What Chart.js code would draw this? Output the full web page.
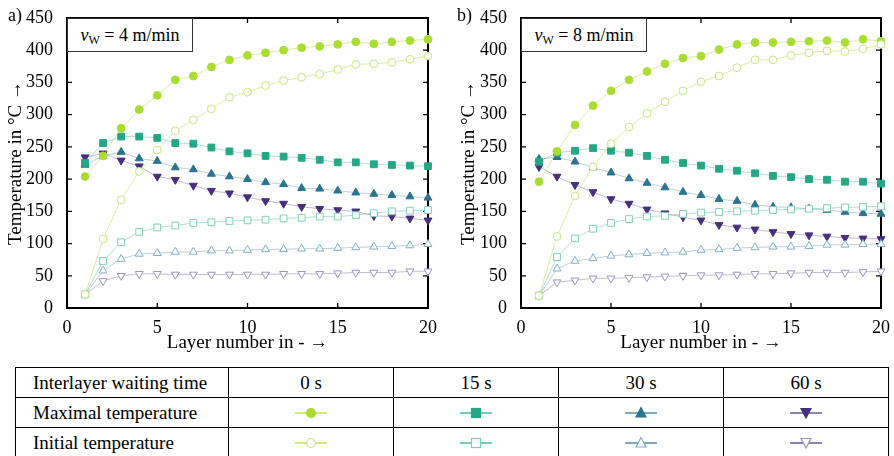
<!DOCTYPE html>
<html>
<head>
<meta charset="utf-8">
<script src="https://cdn.jsdelivr.net/npm/chart.js@4.4.0/dist/chart.umd.min.js"></script>
<style>
  body { margin: 0; width: 894px; height: 456px; background: #fff; overflow: hidden; position: relative;
         font-family: 'Liberation Serif', serif; color: #000; }
  .panel { position: absolute; top: 0; width: 447px; height: 360px; }
  .tag { position: absolute; top: 5px; font-size: 18px; }
  .vw { position: absolute; top: 18px; width: 124px; height: 32px; border: 1px solid #333; background: #fff;
        font-size: 18px; line-height: 32px; text-align: center; }
  .vw sub { font-size: 12px; vertical-align: -3px; line-height: 0; }
  table { position: absolute; left: 15px; top: 367px; border-collapse: collapse; font-size: 19px; }
  td { border: 1.5px solid #000; height: 29px; padding: 0; text-align: center; }
  td.lab { text-align: left; padding-left: 17px; width: 195px; }
  td.c { width: 164px; }
  svg { display: block; margin: 0 auto; }
</style>
</head>
<body>
<div class="panel" style="left:0"><canvas id="chartA" width="447" height="360"></canvas></div>
<div class="panel" style="left:447px"><canvas id="chartB" width="447" height="360"></canvas></div>
<div class="tag" style="left:8px">a)</div>
<div class="tag" style="left:457px">b)</div>
<div class="vw" style="left:67px"><i>v</i><sub>W</sub> = 4 m/min</div>
<div class="vw" style="left:521px"><i>v</i><sub>W</sub> = 8 m/min</div>
<table id="legendTable">
  <tr><td class="lab">Interlayer waiting time</td></tr>
  <tr><td class="lab">Maximal temperature</td></tr>
  <tr><td class="lab">Initial temperature</td></tr>
</table>
<script>
const layers = [1, 2, 3, 4, 5, 6, 7, 8, 9, 10, 11, 12, 13, 14, 15, 16, 17, 18, 19, 20];
const waitTimes = ['0 s', '15 s', '30 s', '60 s'];
const yTickStep = 50;

// panel a) v_W = 4 m/min
const aMax0   = [204, 236, 279, 308, 330, 354, 360, 374, 385, 392, 396, 400, 404, 406, 409, 413, 410, 413, 415, 417];
const aInit0  = [21, 107, 168, 212, 245, 275, 292, 309, 327, 335, 345, 353, 358, 363, 370, 378, 379, 381, 386, 391];
const aMax15  = [225, 256, 266, 266, 264, 256, 255, 249, 243, 240, 236, 235, 233, 230, 226, 226, 223, 222, 221, 220];
const aInit15 = [21, 73, 102, 118, 125, 128, 132, 133, 135, 136, 137, 139, 140, 142, 142, 144, 147, 150, 151, 152];
const aMax30  = [222, 236, 242, 232, 228, 218, 215, 208, 204, 200, 195, 192, 186, 185, 182, 179, 177, 175, 173, 171];
const aInit30 = [21, 58, 76, 84, 85, 87, 87, 89, 89, 90, 91, 91, 92, 92, 93, 94, 95, 96, 97, 99];
const aMax60  = [234, 240, 229, 220, 204, 199, 190, 182, 178, 172, 166, 162, 157, 154, 152, 150, 143, 142, 139, 136];
const aInit60 = [21, 42, 50, 53, 53, 52, 52, 52, 52, 52, 52, 53, 53, 53, 54, 55, 55, 55, 57, 57];

// panel b) v_W = 8 m/min
const bMax0   = [196, 243, 284, 314, 337, 354, 367, 379, 388, 391, 401, 409, 412, 412, 413, 414, 415, 412, 417, 414];
const bInit0  = [19, 111, 174, 219, 255, 281, 302, 320, 337, 351, 360, 373, 385, 385, 392, 396, 399, 398, 402, 409];
const bMax15  = [227, 241, 244, 248, 244, 241, 236, 230, 225, 221, 216, 213, 209, 205, 203, 200, 199, 196, 196, 193];
const bInit15 = [19, 79, 108, 123, 132, 138, 142, 143, 146, 148, 149, 150, 151, 152, 153, 154, 155, 156, 157, 158];
const bMax30  = [231, 234, 227, 218, 210, 201, 194, 187, 180, 175, 169, 166, 160, 157, 156, 154, 152, 149, 147, 146];
const bInit30 = [19, 61, 73, 77, 81, 83, 85, 86, 87, 90, 91, 93, 94, 95, 95, 96, 98, 98, 99, 99];
const bMax60  = [219, 204, 191, 180, 169, 162, 153, 147, 141, 136, 129, 125, 122, 118, 115, 113, 111, 109, 108, 107];
const bInit60 = [19, 40, 43, 46, 46, 47, 48, 49, 50, 51, 51, 52, 53, 53, 54, 55, 55, 55, 56, 57];

// viridis-like colours per waiting time
const colors      = ['#aadc32', '#24a784', '#2b748e', '#46307c'];
const openColors  = ['#c6e67a', '#7dd0b6', '#7fb0c2', '#9d93c4'];
const lineColors  = ['rgba(180,222,70,0.5)', 'rgba(60,180,150,0.4)', 'rgba(60,120,150,0.35)', 'rgba(80,60,130,0.35)'];
const shapes      = ['circle', 'rect', 'triangle', 'triangle'];
const rotations   = [0, 0, 0, 180];
const radii       = [3.9, 4.8, 4.6, 4.6];

const serif = 'Liberation Serif';
Chart.defaults.font.family = serif;
Chart.defaults.font.size = 17;
Chart.defaults.color = '#000';

function points(values) {
    return values.map((v, i) => ({ x: layers[i], y: v }));
}

function buildDatasets(maxSeries, initSeries) {
    const sets = [];
    initSeries.forEach((vals, k) => {
        sets.push({
            data: points(vals),
            borderColor: lineColors[k],
            borderWidth: 1,
            pointStyle: shapes[k],
            rotation: rotations[k],
            pointRadius: radii[k],
            pointBackgroundColor: '#fff',
            pointBorderColor: openColors[k],
            pointBorderWidth: 1,
            clip: false
        });
    });
    maxSeries.forEach((vals, k) => {
        sets.push({
            data: points(vals),
            borderColor: lineColors[k],
            borderWidth: 1,
            pointStyle: shapes[k],
            rotation: rotations[k],
            pointRadius: radii[k],
            pointBackgroundColor: colors[k],
            pointBorderColor: colors[k],
            pointBorderWidth: 1,
            clip: false
        });
    });
    return sets;
}

// frame with inward ticks on all four sides
const frameTicks = {
    id: 'frameTicks',
    beforeDatasetsDraw(chart) {
        const { ctx, chartArea: a, scales: { x, y } } = chart;
        ctx.save();
        ctx.strokeStyle = '#000';
        ctx.lineWidth = 1.3;
        ctx.beginPath();
        x.ticks.forEach(t => {
            const px = x.getPixelForValue(t.value);
            ctx.moveTo(px, a.bottom); ctx.lineTo(px, a.bottom - 5);
            ctx.moveTo(px, a.top); ctx.lineTo(px, a.top + 5);
        });
        y.ticks.forEach(t => {
            const py = y.getPixelForValue(t.value);
            ctx.moveTo(a.left, py); ctx.lineTo(a.left + 5, py);
            ctx.moveTo(a.right, py); ctx.lineTo(a.right - 5, py);
        });
        ctx.stroke();
        ctx.lineWidth = 2;
        ctx.strokeRect(a.left, a.top, a.width, a.height);
        ctx.restore();
    }
};

function makeChart(id, maxSeries, initSeries, yAxisWidth, titlePad, rightPad) {
    return new Chart(document.getElementById(id), {
        type: 'line',
        data: { datasets: buildDatasets(maxSeries, initSeries) },
        options: {
            responsive: false,
            animation: false,
            layout: { padding: { top: 18, right: rightPad, left: 0, bottom: 0 } },
            plugins: { legend: { display: false }, tooltip: { enabled: false } },
            scales: {
                x: {
                    type: 'linear', min: 0, max: 20,
                    grid: { display: false },
                    border: { display: false },
                    ticks: { stepSize: 5, padding: 1, maxRotation: 0, font: { family: serif, size: 18 } },
                    title: { display: true, text: 'Layer number in - \u2192', font: { family: serif, size: 19 },
                             padding: { top: 6, bottom: 6 } },
                    afterFit(s) { s.height = 52; }
                },
                y: {
                    min: 0, max: 450,
                    grid: { display: false },
                    border: { display: false },
                    ticks: { stepSize: yTickStep, padding: 6, font: { family: serif, size: 18 } },
                    title: { display: true, text: 'Temperature in \u00B0C \u2192', font: { family: serif, size: 19 },
                             padding: { top: titlePad, bottom: 0 } },
                    afterFit(s) { s.width = yAxisWidth; }
                }
            }
        },
        plugins: [frameTicks]
    });
}

makeChart('chartA', [aMax0, aMax15, aMax30, aMax60], [aInit0, aInit15, aInit30, aInit60], 67, 5, 19);
makeChart('chartB', [bMax0, bMax15, bMax30, bMax60], [bInit0, bInit15, bInit30, bInit60], 74, 11, 13);

// legend table with small marker glyphs
function markerSvg(k, filled) {
    const c = filled ? colors[k] : openColors[k];
    const fill = filled ? colors[k] : '#fff';
    let shape;
    if (shapes[k] === 'circle') shape = `<circle cx="16" cy="8" r="4.5" fill="${fill}" stroke="${c}" stroke-width="1.2"/>`;
    else if (shapes[k] === 'rect') shape = `<rect x="11.5" y="3.5" width="9" height="9" fill="${fill}" stroke="${c}" stroke-width="1.2"/>`;
    else if (rotations[k] === 0) shape = `<polygon points="16,2.5 21,12 11,12" fill="${fill}" stroke="${c}" stroke-width="1.2"/>`;
    else shape = `<polygon points="11,3.5 21,3.5 16,13" fill="${fill}" stroke="${c}" stroke-width="1.2"/>`;
    return `<svg width="32" height="16"><line x1="0" y1="8" x2="32" y2="8" stroke="${colors[k]}" stroke-width="1.2"/>${shape}</svg>`;
}

const rows = document.querySelectorAll('#legendTable tr');
waitTimes.forEach((w, k) => {
    const h = document.createElement('td'); h.className = 'c'; h.textContent = w; rows[0].appendChild(h);
    const m = document.createElement('td'); m.className = 'c'; m.innerHTML = markerSvg(k, true); rows[1].appendChild(m);
    const i = document.createElement('td'); i.className = 'c'; i.innerHTML = markerSvg(k, false); rows[2].appendChild(i);
});
</script>
</body>
</html>
